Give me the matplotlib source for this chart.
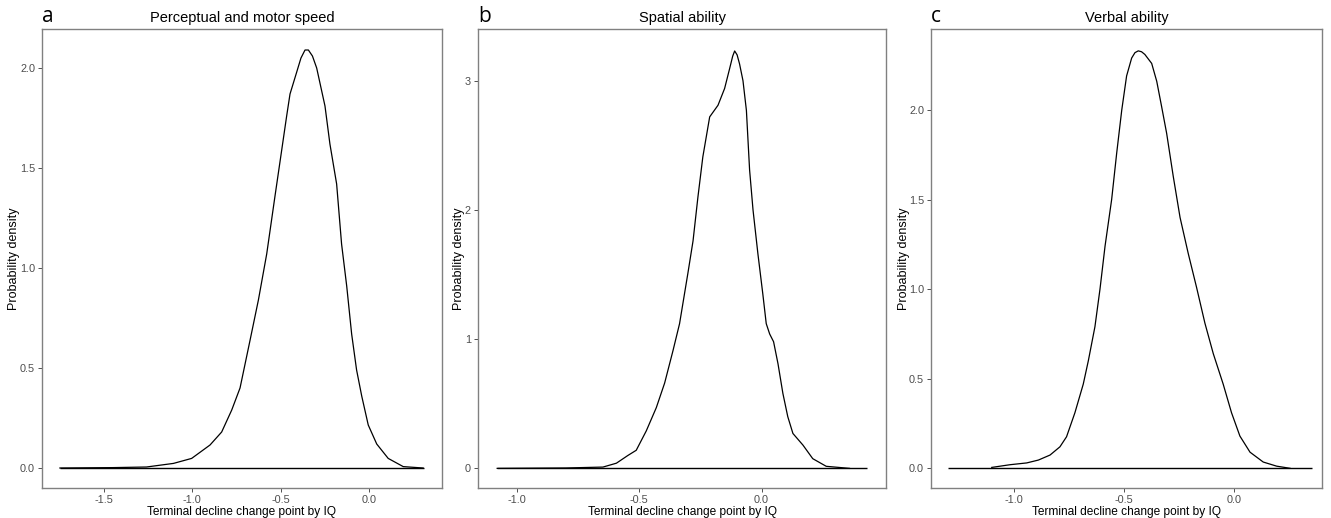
import numpy as np
import matplotlib.pyplot as plt

plt.rcParams['font.family'] = ['Liberation Sans', 'DejaVu Sans']

# panel a: perceptual and motor speed
speed_x = [-1.75, -1.45, -1.26, -1.107, -1.004, -0.90, -0.834, -0.777, -0.730,
           -0.673, -0.626, -0.579, -0.532, -0.494, -0.466, -0.447, -0.409,
           -0.385, -0.362, -0.343, -0.32, -0.296, -0.249, -0.221, -0.183,
           -0.155, -0.126, -0.098, -0.070, -0.041, -0.004, 0.044, 0.109,
           0.194, 0.307]
speed_y = [0.0, 0.002, 0.005, 0.023, 0.048, 0.115, 0.18, 0.29, 0.40,
           0.64, 0.84, 1.07, 1.36, 1.59, 1.76, 1.87, 1.98,
           2.05, 2.09, 2.09, 2.06, 2.00, 1.81, 1.62, 1.42,
           1.12, 0.91, 0.67, 0.49, 0.36, 0.215, 0.12, 0.048,
           0.007, 0.0]

# panel b: spatial ability
spatial_x = [-1.08, -0.80, -0.648, -0.593, -0.546, -0.512, -0.471, -0.430,
             -0.396, -0.362, -0.335, -0.301, -0.280, -0.260, -0.240, -0.212,
             -0.178, -0.151, -0.131, -0.118, -0.110, -0.100, -0.090, -0.076,
             -0.062, -0.049, -0.035, -0.015, 0.005, 0.019, 0.033, 0.049,
             0.067, 0.087, 0.107, 0.128, 0.169, 0.209, 0.264, 0.359]
spatial_y = [0.0, 0.003, 0.01, 0.04, 0.10, 0.14, 0.29, 0.47,
             0.66, 0.91, 1.12, 1.51, 1.76, 2.10, 2.41, 2.72,
             2.81, 2.94, 3.09, 3.19, 3.23, 3.20, 3.13, 3.00,
             2.77, 2.31, 2.00, 1.66, 1.35, 1.12, 1.04, 0.98,
             0.81, 0.58, 0.40, 0.27, 0.18, 0.075, 0.016, 0.0]

# panel c: verbal ability
verbal_x = [-1.101, -1.018, -0.942, -0.889, -0.836, -0.791, -0.761, -0.723,
            -0.685, -0.662, -0.632, -0.609, -0.586, -0.556, -0.533, -0.510,
            -0.488, -0.465, -0.450, -0.435, -0.420, -0.405, -0.374, -0.351,
            -0.329, -0.306, -0.276, -0.245, -0.208, -0.170, -0.132, -0.094,
            -0.049, -0.011, 0.027, 0.073, 0.133, 0.194, 0.255]
verbal_y = [0.005, 0.02, 0.03, 0.046, 0.074, 0.12, 0.176, 0.31,
            0.47, 0.60, 0.79, 1.00, 1.24, 1.50, 1.76, 2.00,
            2.19, 2.29, 2.32, 2.33, 2.325, 2.31, 2.26, 2.16,
            2.02, 1.87, 1.63, 1.40, 1.20, 1.01, 0.81, 0.64,
            0.47, 0.31, 0.18, 0.09, 0.035, 0.012, 0.0]

# extent of the zero line under each curve
baseline_ends = [(-1.75, 0.31), (-1.08, 0.43), (-1.30, 0.355)]

titles = ['Perceptual and motor speed', 'Spatial ability', 'Verbal ability']
letters = ['a', 'b', 'c']
xticks = [[-1.5, -1.0, -0.5, 0.0], [-1.0, -0.5, 0.0], [-1.0, -0.5, 0.0]]
yticks = [[0.0, 0.5, 1.0, 1.5, 2.0], [0, 1, 2, 3], [0.0, 0.5, 1.0, 1.5, 2.0]]
ytick_fmt = ['{:.1f}', '{:d}', '{:.1f}']

series = [(speed_x, speed_y), (spatial_x, spatial_y), (verbal_x, verbal_y)]
xlims = [(-1.851, 0.413), (-1.159, 0.510), (-1.377, 0.40)]
ylims = [(-0.10, 2.195), (-0.152, 3.40), (-0.11, 2.452)]
lefts = [0.0316, 0.359, 0.6995]
rights = [0.332, 0.666, 0.9932]
ylabel_x = [-0.055, -0.032, -0.054]
bottom, top = 0.0579, 0.944

fig = plt.figure(figsize=(13.31, 5.18), dpi=100)

for i in range(3):
    ax = fig.add_axes([lefts[i], bottom, rights[i] - lefts[i], top - bottom])
    x, y = series[i]
    x0, x1 = baseline_ends[i]
    ax.hlines(0, x0, x1, color='black', lw=1.0)
    ax.plot(x, y, color='black', lw=0.9, solid_joinstyle='round')

    ax.set_xlim(*xlims[i])
    ax.set_ylim(*ylims[i])
    ax.set_xticks(xticks[i])
    ax.set_xticklabels([f'{t:.1f}' for t in xticks[i]])
    ax.set_yticks(yticks[i])
    ax.set_yticklabels([ytick_fmt[i].format(t) for t in yticks[i]])
    ax.tick_params(length=3, width=0.6, color='#333333', labelsize=7.8,
                   labelcolor='#4d4d4d', pad=2)
    for sp in ax.spines.values():
        sp.set_color('#808080')
        sp.set_linewidth(1.0)

    ax.set_xlabel('Terminal decline change point by IQ', fontsize=8.6, labelpad=1)
    ax.set_ylabel('Probability density', fontsize=9)
    ax.yaxis.set_label_coords(ylabel_x[i], 0.5)
    ax.set_title(titles[i], fontsize=10.5, pad=5)
    ax.text(0.0, 1.005, letters[i], transform=ax.transAxes, fontsize=15,
            family=['Open Sans', 'DejaVu Sans'], va='bottom', ha='left')

fig.savefig('out.png', dpi=100)
